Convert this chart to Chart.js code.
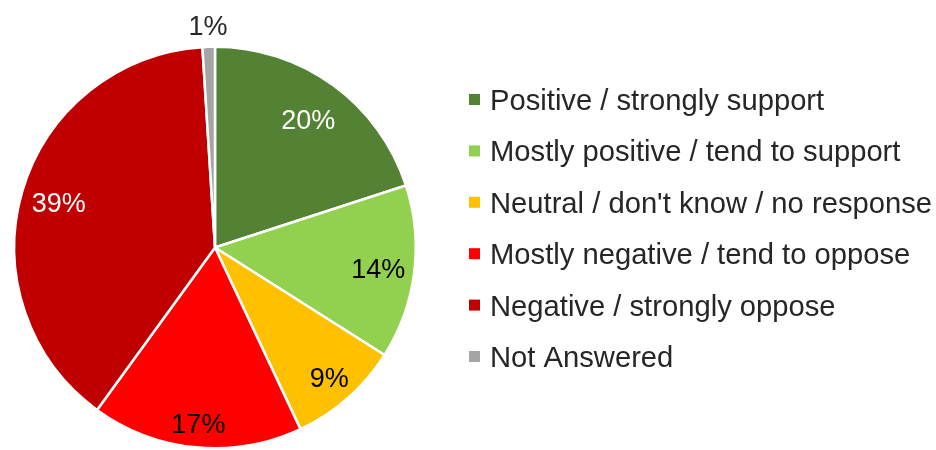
<!DOCTYPE html>
<html>
<head>
<meta charset="utf-8">
<style>
  html, body { margin: 0; padding: 0; background: #fff; overflow: hidden; }
  #wrap { width: 936px; height: 450px; }
</style>
<script src="https://cdn.jsdelivr.net/npm/chart.js@4.4.1/dist/chart.umd.min.js"></script>
</head>
<body>
<div id="wrap"><canvas id="pie" width="936" height="450"></canvas></div>
<script>
const labels = [
  "Positive / strongly support",
  "Mostly positive / tend to support",
  "Neutral / don't know / no response",
  "Mostly negative / tend to oppose",
  "Negative / strongly oppose",
  "Not Answered"
];
const shares = [20, 14, 9, 17, 39, 1];
const sliceColors = ["#548235", "#92D050", "#FFC000", "#FF0000", "#C00000", "#A5A5A5"];
const labelColors = ["#ffffff", "#000000", "#000000", "#000000", "#ffffff", "#262626"];

// percent labels on the slices (small slices go outside)
const pctLabels = {
  id: "pctLabels",
  afterDatasetsDraw(chart, args, opts) {
    const ctx = chart.ctx;
    const meta = chart.getDatasetMeta(0);
    ctx.save();
    ctx.font = opts.size + "px 'Liberation Sans', Arial, sans-serif";
    ctx.textAlign = "center";
    ctx.textBaseline = "alphabetic";
    meta.data.forEach((arc, i) => {
      const p = arc.getProps(["x", "y", "startAngle", "endAngle", "outerRadius"], true);
      const mid = (p.startAngle + p.endAngle) / 2;
      const dist = shares[i] < 3 ? p.outerRadius + opts.outside : p.outerRadius * opts.inside[i];
      ctx.fillStyle = labelColors[i];
      ctx.fillText(shares[i] + "%", p.x + Math.cos(mid) * dist, p.y + Math.sin(mid) * dist + opts.size * 0.358);
    });
    ctx.restore();
  }
};

// legend to the right of the pie
const sideLegend = {
  id: "sideLegend",
  afterDraw(chart, args, opts) {
    const ctx = chart.ctx;
    const colors = chart.data.datasets[0].backgroundColor;
    ctx.save();
    ctx.font = opts.size + "px 'Liberation Sans', Arial, sans-serif";
    ctx.textBaseline = "alphabetic";
    ctx.textAlign = "left";
    chart.data.labels.forEach((label, i) => {
      const y = opts.top + i * opts.spacing;
      ctx.fillStyle = colors[i];
      ctx.fillRect(opts.left, y - opts.box / 2, opts.box, opts.box);
      ctx.fillStyle = opts.color;
      ctx.fillText(label, opts.left + opts.box + opts.gap, y + opts.size * 0.358);
    });
    ctx.restore();
  }
};

new Chart("pie", {
  type: "pie",
  data: {
    labels: labels,
    datasets: [{
      data: shares,
      backgroundColor: sliceColors,
      borderColor: "#ffffff",
      borderWidth: 2.5
    }]
  },
  options: {
    responsive: false,
    devicePixelRatio: 1,
    animation: false,
    events: [],
    layout: { padding: { left: 13, right: 519, top: 45, bottom: 0 } },
    plugins: {
      legend: { display: false },
      tooltip: { enabled: false },
      pctLabels: { size: 27, outside: 22, inside: [0.79, 0.82, 0.86, 0.88, 0.81, 0.8] },
      sideLegend: { left: 469, top: 99.5, spacing: 51.4, box: 11, gap: 10, size: 29.2, color: "#262626" }
    }
  },
  plugins: [pctLabels, sideLegend]
});
</script>
</body>
</html>
